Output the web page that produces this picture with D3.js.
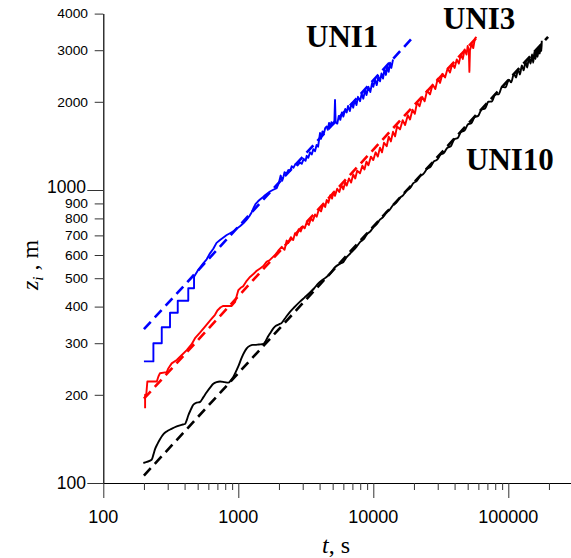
<!DOCTYPE html>
<html><head><meta charset="utf-8">
<script src="https://cdn.jsdelivr.net/npm/d3@7"></script>
<style>body{margin:0;background:#fff}svg{display:block}</style>
</head><body>
<svg id="c" width="571" height="558"></svg>
<script>
// ---- data (t in s, z_i in m) ----
const xTickValues = [100,200,300,400,500,600,700,800,900,1000,2000,3000,4000,5000,6000,7000,8000,9000,10000,20000,30000,40000,50000,60000,70000,80000,90000,100000,200000];
const xMajor = [100,1000,10000,100000];
const yTickValues = [100,200,300,400,500,600,700,800,900,1000,2000,3000,4000];
const yMajor = [100,1000];

const seriesNames = ["UNI1","UNI3","UNI10"];
const seriesColors = ["#0000ff","#ff0000","#000000"];

const uni1 = [[200,260],[235,260],[235,300],[271,300],[271,340],[312,340],[312,381],[356,381],[356,419],[426,419],[426,462],[470,462],[470,506],[500,530],[550,562],[583,580],[617,608],[653,630],[690,660],[732,675],[780,690],[821,702],[868,712],[918,722],[970,738],[1029,752],[1090,770],[1154,792],[1210,815],[1257,840],[1300,870],[1340,895],[1400,915],[1448,928],[1520,945],[1577,960],[1650,975],[1717,988],[1800,1000],[1925,1015],[2000,1060],[2060,1120],[2110,1075],[2150,1100],[2200,1150],[2280,1140],[2350,1170],[2420,1160],[2486,1205],[2560,1190],[2650,1228],[2750,1212],[2864,1242],[2950,1228],[3050,1278],[3150,1258],[3212,1308],[3300,1288],[3400,1345],[3500,1322],[3594,1378],[3700,1356],[3800,1425],[3900,1405],[4029,1565],[4100,1495],[4200,1585],[4300,1555],[4400,1625],[4517,1648],[4600,1605],[4700,1695],[4800,1645],[4900,1705],[5054,1675],[5150,1725],[5204,2030],[5260,1700],[5411,1685],[5550,1790],[5700,1735],[5850,1840],[6000,1780],[6200,1890],[6353,1840],[6500,1935],[6700,1860],[6900,1975],[7100,1910],[7300,2030],[7500,1950],[7700,2080],[7970,2010],[8200,2130],[8433,2050],[8700,2200],[8900,2110],[9200,2250],[9500,2160],[9800,2320],[10000,2250],[10300,2380],[10600,2280],[10900,2440],[11210,2350],[11500,2500],[11800,2400],[12100,2580],[12400,2470],[12700,2640],[13000,2530],[13300,2720],[13600,2610],[14000,2790]];

const uni3 = [[204,180],[204,200],[208,200],[212,222],[249,222],[256,231],[263,237],[295,239],[303,246],[321,256],[350,263],[380,273],[415,284],[450,297],[478,312],[520,326],[567,342],[617,358],[672,375],[700,388],[740,398],[774,402],[830,402],[894,402],[945,414],[973,435],[1000,455],[1050,465],[1090,470],[1154,490],[1221,505],[1300,518],[1369,530],[1450,540],[1532,550],[1624,570],[1700,575],[1800,590],[1871,600],[1950,615],[2000,625],[2097,640],[2200,625],[2283,672],[2346,660],[2450,690],[2550,675],[2630,712],[2708,700],[2800,735],[2900,722],[3000,752],[3100,740],[3212,775],[3330,760],[3450,800],[3570,785],[3700,825],[3808,810],[3950,860],[4100,845],[4250,895],[4400,875],[4517,925],[4650,905],[4800,960],[4950,935],[5054,980],[5200,955],[5400,1010],[5600,985],[5800,1040],[6000,1005],[6200,1065],[6353,1035],[6600,1095],[6850,1060],[7100,1130],[7350,1095],[7600,1165],[7970,1140],[8300,1210],[8600,1175],[8900,1250],[9200,1215],[9600,1300],[10000,1265],[10400,1345],[10800,1300],[11200,1395],[11600,1345],[12000,1450],[12570,1410],[13000,1520],[13500,1465],[14000,1580],[14500,1525],[15000,1650],[15770,1610],[16500,1730],[17200,1665],[18000,1800],[18710,1740],[19500,1880],[20300,1820],[21100,1990],[22000,1930],[23000,2080],[24000,2010],[25000,2180],[26300,2120],[27500,2290],[28800,2210],[30000,2400],[31200,2320],[32500,2490],[34000,2420],[35500,2600],[37000,2520],[38500,2700],[40000,2610],[41500,2790],[43000,2700],[44500,2900],[46000,2800],[47500,3020],[49000,2900],[50000,3100],[51000,2980],[51500,2530],[52000,3000],[53500,3150],[55000,3050],[56500,3280],[58000,3330]];

const uni10 = [[198,117],[210,118],[228,120],[235,125],[241,130],[252,136],[263,141],[280,147],[295,150],[320,153],[350,156],[380,158],[403,159],[415,164],[426,170],[445,178],[464,185],[490,188],[520,189],[550,196],[583,204],[620,212],[653,218],[690,221],[732,222],[790,221],[843,220],[880,224],[918,230],[960,240],[1000,250],[1060,268],[1110,280],[1154,288],[1220,294],[1280,296],[1330,296],[1420,297],[1532,298],[1600,306],[1660,316],[1717,324],[1817,337],[1900,344],[2000,348],[2097,352],[2250,368],[2415,384],[2600,398],[2864,416],[3100,430],[3398,447],[3650,462],[3914,480],[4300,497],[4779,517],[5200,545],[5666,560],[6000,568],[6350,590],[6720,606],[7100,622],[7500,640],[8000,665],[8500,680],[9000,708],[9500,722],[10000,746],[10600,765],[11200,792],[11800,808],[12500,840],[13200,856],[14000,888],[14800,905],[15700,940],[16600,958],[17600,995],[18700,1015],[19800,1055],[21000,1075],[22200,1115],[23500,1135],[25000,1180],[26500,1200],[28000,1250],[29700,1270],[31500,1320],[33400,1340],[35400,1395],[37500,1410],[39800,1490],[42200,1505],[44700,1580],[47400,1595],[50200,1675],[53200,1690],[56400,1775],[59800,1790],[63400,1885],[67200,1895],[71200,2000],[75500,2005],[80000,2120],[84800,2120],[89900,2250],[95300,2240],[101000,2380],[105000,2330],[110000,2490],[114000,2420],[118000,2580],[122000,2480],[126000,2660],[130000,2560],[134000,2750],[138000,2620],[142000,2830],[146000,2700],[150000,2900],[153000,2720],[156000,2960],[159000,2800],[162000,3020],[165000,2850],[168000,3080],[171000,2920],[174000,3150],[176000,2980],[177000,3230]];

// power-law fits (dashed), endpoints
const fit1 = [[200,335],[20000,3350]];
const fit3 = [[200,194],[60000,3365]];
const fit10 = [[200,106],[197000,3330]];

// ---- drawing ----
const svg = d3.select("#c");
const x = d3.scaleLog().domain([100, 291300]).range([103.3, 571]);
const y = d3.scaleLog().domain([100, 4000]).range([483, 13.6]);

const sans = "'Liberation Sans', Arial, sans-serif";
const serif = "'Liberation Serif', 'Times New Roman', serif";

// x axis
const gx = svg.append("g").attr("transform","translate(0,483)")
  .call(d3.axisBottom(x).tickValues(xTickValues).tickSize(7).tickSizeOuter(0).tickFormat(""));
gx.select(".domain").attr("stroke","#000").attr("stroke-width",1.2);
gx.selectAll(".tick line").attr("stroke","#333").attr("y2", d => xMajor.includes(d) ? 15 : 7);
xMajor.forEach(v => {
  svg.append("text").attr("x", x(v)).attr("y", 523).attr("text-anchor","middle")
    .attr("font-family", sans).attr("font-size", 18).attr("fill","#000").text(String(v));
});

// y axis
const gy = svg.append("g").attr("transform","translate(103.3,0)")
  .call(d3.axisLeft(y).tickValues(yTickValues).tickSize(8.6).tickSizeOuter(0).tickFormat(""));
gy.select(".domain").attr("stroke","#000").attr("stroke-width",1.2);
gy.selectAll(".tick line").attr("stroke","#333").attr("x2", d => yMajor.includes(d) ? -16 : -8.6);
yTickValues.forEach(v => {
  const major = yMajor.includes(v);
  const g = svg.append("g").attr("transform", `translate(${major ? 86 : 88},${y(v)})`);
  g.append("text").attr("text-anchor","end")
    .attr("dy", major ? (v === 1000 ? "0.17em" : "0.36em") : "0.40em")
    .attr("font-family", sans).attr("font-size", major ? 17.5 : 12)
    .attr("transform", major ? null : "scale(1.15,1)")
    .attr("fill","#000").text(String(v));
});

// axis titles
const yt = svg.append("text").attr("transform","translate(38,265) rotate(-90)")
  .attr("text-anchor","middle").attr("font-family", serif).attr("font-size", 24).attr("fill","#000");
yt.append("tspan").attr("font-style","italic").text("z");
yt.append("tspan").attr("font-style","italic").attr("font-size",15).attr("dy",5).text("i");
yt.append("tspan").attr("dy",-5).text(" , m");

const xt = svg.append("text").attr("x",336).attr("y",553).attr("text-anchor","middle")
  .attr("font-family", serif).attr("font-size", 24).attr("fill","#000");
xt.append("tspan").attr("font-style","italic").text("t");
xt.append("tspan").text(", s");

// lines
const lineLin = d3.line().x(d => x(d[0])).y(d => y(d[1]));
const lineSmooth = d3.line().x(d => x(d[0])).y(d => y(d[1])).curve(d3.curveMonotoneX);

const solids = [uni1, uni3, uni10];
const fits = [fit1, fit3, fit10];
solids.forEach((s, i) => {
  svg.append("path").datum(s).attr("fill","none").attr("stroke", seriesColors[i])
    .attr("stroke-width", 1.9).attr("stroke-linejoin","round")
    .attr("d", i === 2 ? lineSmooth(s) : lineLin(s));
});
fits.forEach((f, i) => {
  svg.append("path").datum(f).attr("fill","none").attr("stroke", seriesColors[i])
    .attr("stroke-width", 2.6).attr("stroke-dasharray","10,6")
    .attr("d", lineLin(f));
});

// series labels
const labelPos = [[306,47],[443,28.5],[466,170]];
seriesNames.forEach((n, i) => {
  svg.append("text").attr("x", labelPos[i][0]).attr("y", labelPos[i][1])
    .attr("font-family", serif).attr("font-weight","bold").attr("font-size", 31)
    .attr("fill","#000").text(n);
});
</script>
</body></html>
